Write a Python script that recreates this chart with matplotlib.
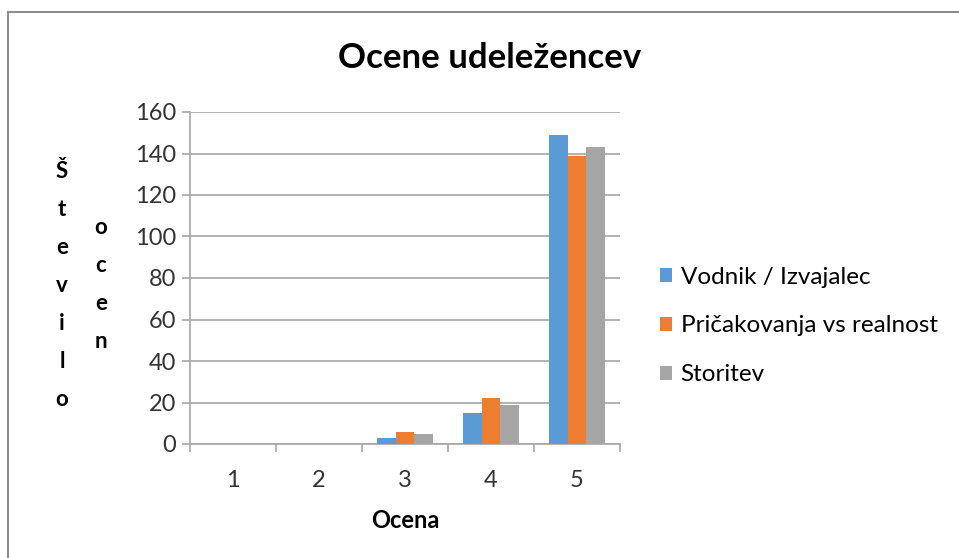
import matplotlib
matplotlib.use('Agg')
import matplotlib.pyplot as plt
import numpy as np
from matplotlib.lines import Line2D

# ratings 1..5 and how many participants gave each
categories = ['1', '2', '3', '4', '5']
vodnik = [0, 0, 3, 15, 149]
pricakovanja = [0, 0, 6, 22, 139]
storitev = [0, 0, 5, 19, 143]
series_names = ['Vodnik / Izvajalec', 'Pričakovanja vs realnost', 'Storitev']
colors = ['#5B9BD5', '#ED7D31', '#A5A5A5']

plt.rcParams['font.family'] = ['Lato', 'DejaVu Sans']

fig = plt.figure(figsize=(9.59, 5.58), dpi=100)
W, H = 959, 558
ax = fig.add_axes([190 / W, 1 - 444 / H, 430 / W, 332 / H])

x = np.arange(len(categories))
width = 0.22
for i, (vals, name, c) in enumerate(zip([vodnik, pricakovanja, storitev], series_names, colors)):
    ax.bar(x + (i - 1) * width, vals, width, color=c, label=name, zorder=3)

ax.set_xlim(-0.5, len(categories) - 0.5)
ax.set_ylim(0, 160)
ax.set_yticks(range(0, 161, 20))
ax.yaxis.grid(True, color='#A6A6A6', linewidth=1.2, zorder=0)
for s in ['top', 'right']:
    ax.spines[s].set_visible(False)
for s in ['left', 'bottom']:
    ax.spines[s].set_color('#A6A6A6')
    ax.spines[s].set_linewidth(1.2)

# x ticks between categories, labels at centers
ax.set_xticks(np.arange(-0.5, len(categories), 1))
ax.set_xticklabels([])
ax.set_xticks(x, minor=True)
ax.set_xticklabels(categories, minor=True)
ax.tick_params(axis='x', which='major', length=6, color='#A6A6A6', width=1.2)
ax.tick_params(axis='x', which='minor', length=0, pad=19, labelsize=17, labelcolor='#333333')
ax.tick_params(axis='y', length=6, color='#A6A6A6', width=1.2, labelsize=17,
               labelcolor='#333333', pad=4)

fig.text(490 / W, 1 - 58 / H, 'Ocene udeležencev', ha='center', va='center',
         fontsize=25, fontweight='bold', color='#000000')
fig.text(405 / W, 1 - 521 / H, 'Ocena', ha='center', va='center',
         fontsize=17, fontweight='bold', color='#000000')
fig.text(62 / W, 1 - 285 / H, '\n'.join('Število'), ha='center', va='center',
         fontsize=16, fontweight='bold', linespacing=2.0)
fig.text(101 / W, 1 - 284 / H, '\n'.join('ocen'), ha='center', va='center',
         fontsize=16, fontweight='bold', linespacing=2.0)

fig.legend(loc='center left', bbox_to_anchor=(660 / W, 1 - 326 / H), frameon=False,
           fontsize=17.5, labelspacing=1.15, handlelength=0.5, handleheight=0.5,
           handletextpad=0.35, borderpad=0, borderaxespad=0, labelcolor='#000000')

# chart border (only top and left edges are within the picture)
fig.add_artist(Line2D([8 / W, 8 / W], [0, 1 - 12 / H], color='#8C8C8C', linewidth=1.5))
fig.add_artist(Line2D([8 / W, 1], [1 - 12 / H, 1 - 12 / H], color='#8C8C8C', linewidth=1.5))

fig.savefig('out.png', dpi=100)
